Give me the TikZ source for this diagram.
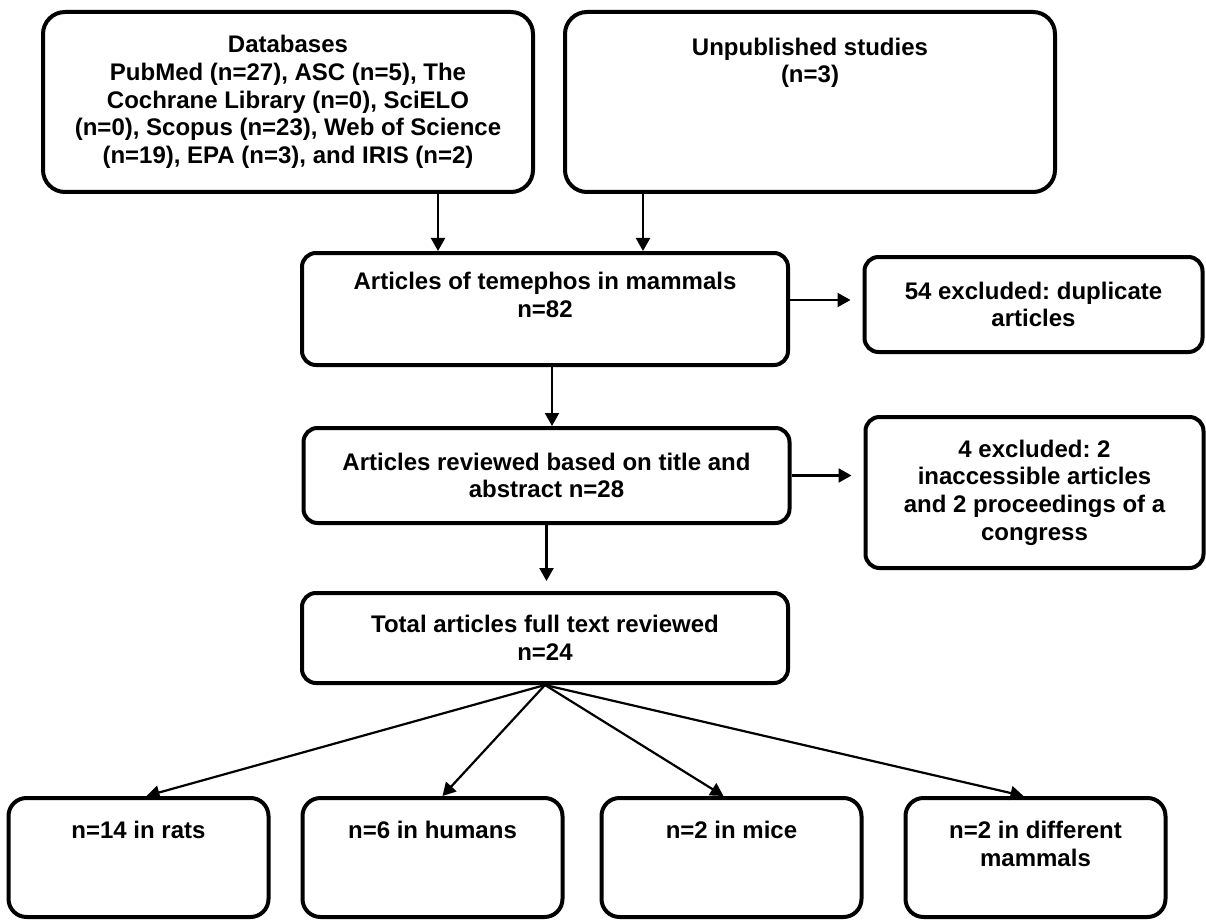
\documentclass[tikz,border=0pt]{standalone}
\usepackage{fontspec}
\setmainfont{Liberation Sans}
\usepackage{tikz}
\usetikzlibrary{shapes, arrows, arrows.meta}
\frenchspacing
\tikzstyle{srcbox} = [rectangle, draw, line width=2pt, rounded corners=11pt, minimum width=245pt, minimum height=90pt, text centered, align=center]
\tikzstyle{midbox} = [rectangle, draw, line width=2pt, rounded corners=7pt, minimum width=243pt, text centered, align=center]
\tikzstyle{exbox} = [rectangle, draw, line width=2pt, rounded corners=7pt, minimum width=169pt, text centered, align=center]
\tikzstyle{leafbox} = [rectangle, draw, line width=2pt, rounded corners=9pt, minimum width=130pt, minimum height=59.5pt, text centered, align=center]
\tikzstyle{line} = [draw, line width=1.1pt, -{Triangle[length=6.5pt, width=7pt]}]

\begin{document}
\begin{tikzpicture}[x=0.5pt, y=-0.5pt, font=\fontsize{12pt}{13.85pt}\selectfont\bfseries]
    \useasboundingbox (0,0) rectangle (1206,920);

    \node[srcbox] (db) at (288,102) {Databases\\PubMed (n=27), ASC (n=5), The\\Cochrane Library (n=0), SciELO\\(n=0), Scopus (n=23), Web of Science\\(n=19), EPA (n=3), and IRIS (n=2)};
    \node[srcbox] (unpub) at (810,102) {Unpublished studies\\(n=3)\\~\\~\\~};
    \node[midbox, minimum height=56pt] (art) at (545,309) {Articles of temephos in mammals\\n=82\\~};
    \node[exbox, minimum height=47.5pt] (dup) at (1033.5,304.5) {54 excluded: duplicate\\articles};
    \node[midbox, minimum height=47.5pt] (rev) at (546.5,475.5) {Articles reviewed based on title and\\abstract n=28};
    \node[exbox, minimum height=75.5pt] (exc) at (1034.5,492.5) {4 excluded: 2\\inaccessible articles\\and 2 proceedings of a\\congress};
    \node[midbox, minimum height=45pt] (tot) at (545,638) {Total articles full text reviewed\\n=24};
    \node[leafbox] (rats) at (138.5,857.5) {n=14 in rats\\~\\~};
    \node[leafbox] (hum) at (432.5,857.5) {n=6 in humans\\~\\~};
    \node[leafbox] (mice) at (731.5,857.5) {n=2 in mice\\~\\~};
    \node[leafbox] (diff) at (1035.5,857.5) {n=2 in different\\mammals\\~};

    \coordinate (dbout) at ([xshift=75pt]db.south);
    \coordinate (unout) at ([xshift=-83.5pt]unpub.south);
    \coordinate (artout) at ([yshift=4.5pt]art.east);
    \coordinate (artdown) at ([xshift=3.5pt]art.south);

    \path[line] (dbout) -- (dbout |- art.north);
    \path[line] (unout) -- (unout |- art.north);
    \path[line, shorten >=6pt] (artout) -- (artout -| dup.west);
    \path[line] (artdown) -- (artdown |- rev.north);
    \path[line, shorten >=6pt] (rev.east) -- (rev.east -| exc.west);
    \path[line, shorten >=5pt] (rev.south) -- (rev.south |- tot.north);
    \foreach \leaf/\dx in {rats/4pt, hum/5pt, mice/-4pt, diff/-6pt}
        \path[line] (tot.south) -- ([xshift=\dx]\leaf.north);
\end{tikzpicture}
\end{document}
